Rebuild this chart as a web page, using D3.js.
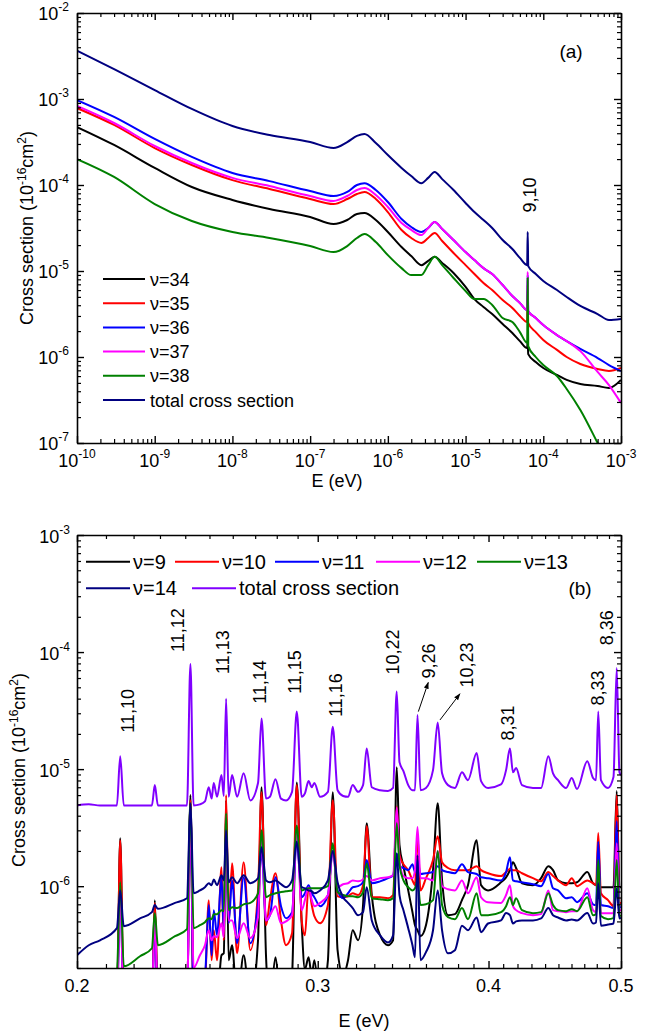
<!DOCTYPE html>
<html>
<head>
<meta charset="utf-8">
<script src="https://cdn.jsdelivr.net/npm/d3@7"></script>
<style>
  body { margin: 0; background: #fff; }
  text { font-family: "Liberation Sans", Arial, sans-serif; fill: #000; }
</style>
</head>
<body>
<svg id="chart" width="658" height="1036"></svg>
<script>
// ── Panel (a): low-energy cross sections, v = 34..38 ──
const eA = [1e-10, 3e-10, 1e-9, 3e-9, 1e-8, 3e-8, 1e-7, 2e-7, 3e-7, 4e-7, 5e-7, 7e-7, 1e-6, 1.5e-6, 2e-6, 2.7e-6,
  3.3e-6, 4e-6, 5e-6, 7e-6, 1e-5, 1.3e-5, 1.7e-5, 2.2e-5, 3e-5, 4e-5, 5e-5, 6.2e-5, 6.3e-5, 6.4e-5, 8e-5, 1e-4,
  1.5e-4, 2e-4, 3e-4, 5e-4, 7e-4, 1e-3];
const a34 = [4.72e-4, 2.92e-4, 1.58e-4, 9.48e-5, 6.70e-5, 5.26e-5, 4.25e-5, 3.52e-5, 3.92e-5, 4.60e-5, 4.72e-5, 3.92e-5,
  2.84e-5, 1.90e-5, 1.49e-5, 1.17e-5, 1.31e-5, 1.46e-5, 1.24e-5, 9.48e-6, 6.52e-6, 4.72e-6, 3.81e-6, 3.16e-6, 2.42e-6,
  1.90e-6, 1.53e-6, 1.27e-6, 1.55e-6, 1.08e-6, 8.75e-7, 7.45e-7, 6.18e-7, 5.41e-7, 4.85e-7, 4.60e-7, 4.36e-7, 5.41e-7];
const a35 = [7.85e-4, 4.99e-4, 2.69e-4, 1.71e-4, 1.14e-4, 8.98e-5, 6.87e-5, 6.01e-5, 6.87e-5, 7.85e-5, 8.30e-5, 6.87e-5,
  4.85e-5, 3.0e-5, 2.42e-5, 2.12e-5, 2.42e-5, 2.77e-5, 2.23e-5, 1.62e-5, 1.17e-5, 9.23e-6, 7.25e-6, 6.01e-6, 4.60e-6,
  3.72e-6, 3.0e-6, 2.55e-6, 6.87e-6, 2.48e-6, 1.95e-6, 1.58e-6, 1.21e-6, 1.0e-6, 8.30e-7, 7.25e-7, 6.87e-7, 7.45e-7];
const a36 = [9.7e-4, 6.18e-4, 3.43e-4, 2.12e-4, 1.38e-4, 1.11e-4, 8.51e-5, 7.45e-5, 8.30e-5, 1.0e-4, 1.05e-4, 8.75e-5,
  6.34e-5, 4.03e-5, 3.25e-5, 2.84e-5, 3.16e-5, 3.72e-5, 3.08e-5, 2.29e-5, 1.66e-5, 1.34e-5, 1.08e-5, 9.23e-6, 6.87e-6,
  5.12e-6, 4.25e-6, 3.52e-6, 8.97e-6, 3.43e-6, 2.84e-6, 2.35e-6, 1.80e-6, 1.53e-6, 1.24e-6, 9.73e-7, 8.07e-7, 6.87e-7];
const a37 = [8.30e-4, 5.26e-4, 2.84e-4, 1.80e-4, 1.21e-4, 9.73e-5, 7.45e-5, 6.52e-5, 7.45e-5, 8.75e-5, 9.23e-5, 7.66e-5,
  5.55e-5, 3.61e-5, 3.0e-5, 2.62e-5, 3.16e-5, 3.72e-5, 3.08e-5, 2.29e-5, 1.66e-5, 1.34e-5, 1.08e-5, 9.23e-6, 6.87e-6,
  5.12e-6, 4.25e-6, 3.52e-6, 9.73e-6, 3.43e-6, 2.84e-6, 2.35e-6, 1.80e-6, 1.53e-6, 1.17e-6, 6.70e-7, 4.72e-7, 2.92e-7];
const a38 = [2.0e-4, 1.24e-4, 6.01e-5, 3.81e-5, 2.84e-5, 2.42e-5, 1.95e-5, 1.66e-5, 1.95e-5, 2.42e-5, 2.69e-5, 2.17e-5,
  1.53e-5, 1.08e-5, 8.97e-6, 8.97e-6, 1.17e-5, 1.46e-5, 1.17e-5, 8.30e-6, 5.85e-6, 4.72e-6, 4.72e-6, 4.03e-6, 2.84e-6,
  2.55e-6, 1.95e-6, 1.46e-6, 8.30e-6, 1.34e-6, 1.0e-6, 8.07e-7, 6.01e-7, 4.25e-7, 2.42e-7, 1.0e-7, 5.5e-8, 3.0e-8];
const aTot = [3.65e-3, 2.23e-3, 1.27e-3, 7.66e-4, 4.85e-4, 3.81e-4, 3.16e-4, 2.69e-4, 3.16e-4, 3.72e-4, 3.92e-4, 3.08e-4,
  2.23e-4, 1.58e-4, 1.27e-4, 1.05e-4, 1.21e-4, 1.42e-4, 1.17e-4, 8.75e-5, 6.18e-5, 4.85e-5, 3.92e-5, 3.16e-5, 2.29e-5,
  1.80e-5, 1.42e-5, 1.17e-5, 2.84e-5, 1.14e-5, 9.23e-6, 7.66e-6, 6.01e-6, 4.99e-6, 3.92e-6, 3.16e-6, 2.69e-6, 2.77e-6];

// ── Panel (b): resonance region, v = 9..14 ──
const eB = [0.2, 0.204, 0.2079, 0.2139, 0.2151, 0.2164, 0.2224, 0.2269, 0.228, 0.2292,
  0.2359, 0.2407, 0.2421, 0.2434, 0.246, 0.2481, 0.2497, 0.2509, 0.2518, 0.2532,
  0.2551, 0.2561, 0.2571, 0.2582, 0.2597, 0.2619, 0.2648, 0.2678, 0.2713, 0.2729,
  0.275, 0.2768, 0.2794, 0.282, 0.2844, 0.2873, 0.2896, 0.292, 0.2936, 0.2954,
  0.297, 0.2983, 0.3012, 0.3052, 0.3077, 0.3102, 0.3131, 0.3157, 0.3182, 0.3211,
  0.3238, 0.3258, 0.3286, 0.3332, 0.3377, 0.3406, 0.3427, 0.3443, 0.3466, 0.3494,
  0.3519, 0.3534, 0.3549, 0.3567, 0.36, 0.3643, 0.3672, 0.3699, 0.3736, 0.378,
  0.3825, 0.3864, 0.3921, 0.395, 0.3997, 0.4085, 0.412, 0.4147, 0.4168, 0.419,
  0.4232, 0.4311, 0.437, 0.4424, 0.4459, 0.4497, 0.4558, 0.4602, 0.4643, 0.4724,
  0.477, 0.4794, 0.4812, 0.4834, 0.4892, 0.4937, 0.4964, 0.4987, 0.5];
const b9 = [1e-7, 1e-7, 1e-7, 1e-7, 2.57e-6, 1e-7, 1e-7, 1e-7, 7.6e-7, 1e-7,
  1e-7, 1e-7, 6.0e-6, 1e-7, 1e-7, 1e-7, 1e-7, 1e-7, 1e-7, 1e-7,
  2.57e-7, 2.67e-7, 5.43e-6, 2.33e-7, 3.13e-7, 1e-7, 2.57e-7, 1e-7, 3.45e-7, 7.0e-6,
  2.47e-7, 1e-7, 2.47e-7, 1e-7, 1e-7, 1.73e-7, 7.7e-6, 4.83e-7, 1.95e-7, 2.47e-7,
  1.73e-7, 2.33e-7, 1e-7, 2.33e-7, 6.36e-6, 2.84e-7, 1.73e-7, 2.33e-7, 4.21e-7, 3.45e-7,
  6.9e-7, 3.45e-6, 8.4e-7, 3.81e-7, 3.13e-7, 3.45e-7, 1.04e-5, 2.24e-6, 1.48e-6, 9.2e-7,
  6.0e-7, 4.64e-7, 4.21e-7, 3.74e-7, 4.64e-7, 1.37e-6, 5.1e-6, 1.12e-6, 5.65e-7, 5.77e-7,
  7.6e-7, 1.02e-6, 2.47e-6, 1.02e-6, 9.2e-7, 1.08e-6, 1.19e-6, 1.37e-6, 1.6e-6, 1.43e-6,
  1.06e-6, 1.02e-6, 1.17e-6, 1.48e-6, 1.37e-6, 1.12e-6, 1.06e-6, 1.06e-6, 1.08e-6, 1.32e-6,
  1.06e-6, 1.02e-6, 1.0e-6, 9.8e-7, 9.8e-7, 9.8e-7, 6.5e-6, 9.8e-7, 9.8e-7];
const b10 = [1e-7, 1e-7, 1e-7, 1e-7, 2.47e-6, 1e-7, 1e-7, 1e-7, 7.2e-7, 1e-7,
  1e-7, 1e-7, 5.43e-6, 1e-7, 1e-7, 1.43e-7, 7.6e-7, 2.33e-7, 4.21e-7, 2.33e-7,
  1.45e-6, 3.45e-7, 6.0e-6, 4.83e-7, 1.57e-6, 2.67e-7, 1.6e-6, 2.84e-7, 9.2e-7, 6.36e-6,
  4.64e-7, 7.6e-7, 1.29e-6, 5.1e-7, 3.13e-7, 3.96e-7, 7.3e-6, 5.1e-7, 3.81e-7, 1.0e-6,
  6.9e-7, 5.55e-7, 4.83e-7, 6.9e-7, 5.43e-6, 8.2e-7, 8.05e-7, 8.2e-7, 8.7e-7, 8.4e-7,
  1.02e-6, 3.26e-6, 8.05e-7, 8.05e-7, 7.9e-7, 8.4e-7, 4.8e-6, 1.84e-6, 1.54e-6, 1.37e-6,
  1.12e-6, 1.02e-6, 2.73e-6, 9.2e-7, 1.17e-6, 1.67e-6, 2.67e-6, 1.6e-6, 1.43e-6, 1.37e-6,
  1.37e-6, 1.37e-6, 1.48e-6, 1.37e-6, 1.29e-6, 1.22e-6, 1.32e-6, 1.40e-6, 1.37e-6, 1.37e-6,
  1.29e-6, 1.17e-6, 1.10e-6, 1.32e-6, 1.22e-6, 1.12e-6, 1.02e-6, 1.17e-6, 1.0e-6, 1.12e-6,
  1.06e-6, 1.02e-6, 2.84e-6, 8.7e-7, 7.6e-7, 6.75e-7, 6.0e-6, 7.2e-7, 7.2e-7];
const b11 = [1e-7, 1e-7, 1e-7, 1e-7, 8.4e-7, 1e-7, 1e-7, 1e-7, 4.64e-7, 1e-7,
  1e-7, 1e-7, 4.9e-6, 1e-7, 1.43e-7, 1.73e-7, 6.9e-7, 2.57e-7, 6.24e-7, 3.81e-7,
  1.19e-6, 4.21e-7, 3.0e-6, 4.83e-7, 1.12e-6, 3.26e-7, 1.19e-6, 3.26e-7, 7.2e-7, 2.0e-6,
  5.1e-7, 5.65e-7, 1.19e-6, 6.75e-7, 5.33e-7, 6.0e-7, 2.47e-6, 8.05e-7, 8.7e-7, 1.02e-6,
  8.7e-7, 8.05e-7, 6.75e-7, 8.4e-7, 2.0e-6, 9.2e-7, 7.9e-7, 8.7e-7, 9.8e-7, 1.0e-6,
  1.08e-6, 1.67e-6, 1.06e-6, 1.10e-6, 1.17e-6, 1.24e-6, 1.9e-6, 1.48e-6, 1.43e-6, 1.37e-6,
  1.54e-6, 1.32e-6, 1.67e-6, 1.27e-6, 1.29e-6, 1.32e-6, 1.48e-6, 1.37e-6, 1.32e-6, 1.29e-6,
  1.54e-6, 1.32e-6, 1.27e-6, 1.19e-6, 1.17e-6, 1.12e-6, 1.32e-6, 1.77e-6, 1.12e-6, 1.10e-6,
  1.08e-6, 1.04e-6, 1.0e-6, 1.27e-6, 9.6e-7, 9.2e-7, 7.9e-7, 8.05e-7, 7.3e-7, 8.7e-7,
  7.0e-7, 6.9e-7, 2.4e-6, 6.9e-7, 6.75e-7, 6.5e-7, 3.6e-6, 6.6e-7, 6.6e-7];
const b12 = [1e-7, 1e-7, 1e-7, 1e-7, 8.4e-7, 1e-7, 1e-7, 1e-7, 5.65e-7, 1e-7,
  1e-7, 1e-7, 4.5e-6, 2.0e-7, 2.57e-7, 3.13e-7, 4.2e-7, 3.45e-7, 3.74e-7, 3.66e-7,
  4.83e-7, 3.66e-7, 3.0e-6, 5.1e-7, 5.1e-7, 3.6e-7, 4.83e-7, 3.6e-7, 5.43e-7, 2.47e-6,
  5.1e-7, 5.65e-7, 6.75e-7, 4.83e-7, 5.0e-7, 5.65e-7, 3.0e-6, 6.24e-7, 7.6e-7, 9.8e-7,
  7.6e-7, 6.75e-7, 7.2e-7, 8.4e-7, 2.0e-6, 9.8e-7, 1.04e-6, 1.06e-6, 1.12e-6, 1.10e-6,
  1.14e-6, 1.22e-6, 1.12e-6, 1.17e-6, 1.19e-6, 1.24e-6, 4.7e-6, 1.67e-6, 1.22e-6, 1.17e-6,
  1.17e-6, 1.37e-6, 3.2e-6, 1.17e-6, 1.17e-6, 1.12e-6, 2.0e-6, 1.0e-6, 9.4e-7, 9.2e-7,
  1.12e-6, 8.7e-7, 1.19e-6, 8.05e-7, 7.3e-7, 7.2e-7, 8.4e-7, 1.02e-6, 6.75e-7, 6.24e-7,
  5.88e-7, 5.65e-7, 5.77e-7, 9.2e-7, 6.24e-7, 6.12e-7, 6.0e-7, 6.12e-7, 6.12e-7, 9.6e-7,
  6.24e-7, 6.0e-7, 1.45e-6, 5.88e-7, 5.88e-7, 5.88e-7, 2.33e-6, 6.24e-7, 6.24e-7];
const b13 = [1e-7, 1e-7, 1.29e-7, 1.84e-7, 1.08e-6, 2.07e-7, 2.52e-7, 2.95e-7, 5.88e-7, 3.13e-7,
  3.74e-7, 4.29e-7, 5.1e-6, 4.38e-7, 4.64e-7, 4.92e-7, 5.33e-7, 5.22e-7, 5.77e-7, 5.77e-7,
  6.24e-7, 6.12e-7, 4.2e-6, 6.24e-7, 6.6e-7, 6.5e-7, 7.0e-7, 7.2e-7, 8.7e-7, 3.0e-6,
  8.05e-7, 8.4e-7, 8.7e-7, 8.9e-7, 9.05e-7, 9.2e-7, 3.3e-6, 9.2e-7, 9.4e-7, 9.6e-7,
  9.6e-7, 9.6e-7, 9.6e-7, 1.0e-6, 2.33e-6, 8.9e-7, 8.4e-7, 8.2e-7, 8.2e-7, 8.05e-7,
  8.9e-7, 1.57e-6, 7.9e-7, 7.74e-7, 7.6e-7, 7.9e-7, 3.45e-6, 1.51e-6, 1.12e-6, 9.8e-7,
  9.2e-7, 9.6e-7, 1.12e-6, 6.9e-7, 7.0e-7, 7.6e-7, 2.0e-6, 6.9e-7, 5.43e-7, 5.22e-7,
  6.5e-7, 5.22e-7, 8.7e-7, 5.65e-7, 5.65e-7, 6.0e-7, 6.75e-7, 8.05e-7, 6.9e-7, 7.9e-7,
  6.24e-7, 5.88e-7, 6.0e-7, 8.7e-7, 6.9e-7, 6.24e-7, 6.12e-7, 6.36e-7, 6.12e-7, 8.05e-7,
  5.65e-7, 5.77e-7, 1.67e-6, 5.55e-7, 5.22e-7, 5.33e-7, 1.67e-6, 5.65e-7, 5.55e-7];
const b14 = [2.57e-7, 3.13e-7, 3.45e-7, 4.38e-7, 9.2e-7, 4.55e-7, 5.3e-7, 6.0e-7, 6.9e-7, 6.4e-7,
  7.2e-7, 7.9e-7, 5.1e-6, 8.7e-7, 9.2e-7, 9.8e-7, 1.06e-6, 1.02e-6, 1.14e-6, 1.02e-6,
  1.24e-6, 1.12e-6, 3.0e-6, 1.08e-6, 1.19e-6, 1.06e-6, 1.24e-6, 1.06e-6, 1.17e-6, 2.15e-6,
  1.12e-6, 1.08e-6, 1.12e-6, 1.04e-6, 9.8e-7, 1.12e-6, 2.4e-6, 9.8e-7, 9.6e-7, 9.2e-7,
  9.05e-7, 8.7e-7, 9.2e-7, 1.12e-6, 2.0e-6, 1.08e-6, 8.05e-7, 7.2e-7, 6.5e-7, 5.65e-7,
  6.0e-7, 9.8e-7, 5.1e-7, 3.8e-7, 3.3e-7, 3.8e-7, 1.9e-6, 8.4e-7, 6.24e-7, 4.38e-7,
  3.13e-7, 2.47e-7, 1.84e-6, 2.33e-7, 2.73e-7, 4.2e-7, 9.2e-7, 4.2e-7, 2.67e-7, 2.84e-7,
  4.6e-7, 4.2e-7, 5.4e-7, 4.05e-7, 4.8e-7, 5.1e-7, 5.9e-7, 5.65e-7, 4.8e-7, 5.0e-7,
  5.1e-7, 5.1e-7, 5.3e-7, 6.5e-7, 5.65e-7, 5.4e-7, 5.1e-7, 5.2e-7, 5.1e-7, 5.9e-7,
  4.8e-7, 4.9e-7, 1.06e-6, 4.6e-7, 4.7e-7, 4.8e-7, 9.6e-7, 5.3e-7, 5.4e-7];
const bTot = [4.9e-6, 5.0e-6, 4.9e-6, 4.9e-6, 1.29e-5, 4.9e-6, 4.9e-6, 4.9e-6, 7.3e-6, 4.9e-6,
  4.9e-6, 4.9e-6, 7.9e-5, 4.9e-6, 5.0e-6, 5.3e-6, 7.0e-6, 5.6e-6, 7.6e-6, 5.8e-6,
  8.9e-6, 5.9e-6, 4.0e-5, 5.8e-6, 8.9e-6, 5.8e-6, 9.2e-6, 5.4e-6, 7.6e-6, 2.7e-5,
  5.6e-6, 5.8e-6, 8.2e-6, 5.6e-6, 5.4e-6, 6.4e-6, 3.1e-5, 5.8e-6, 6.2e-6, 7.9e-6,
  7.0e-6, 7.6e-6, 5.8e-6, 6.4e-6, 2.3e-5, 6.6e-6, 5.9e-6, 5.8e-6, 7.3e-6, 6.4e-6,
  7.3e-6, 1.5e-5, 7.0e-6, 6.6e-6, 6.5e-6, 6.9e-6, 4.6e-5, 1.15e-5, 9.6e-6, 7.3e-6,
  6.6e-6, 6.6e-6, 2.9e-5, 6.6e-6, 6.9e-6, 9.8e-6, 2.5e-5, 9.2e-6, 7.3e-6, 6.9e-6,
  9.4e-6, 8.05e-6, 1.37e-5, 7.9e-6, 6.9e-6, 7.4e-6, 9.8e-6, 1.5e-5, 9.4e-6, 1.02e-5,
  7.3e-6, 6.9e-6, 6.9e-6, 1.29e-5, 9.2e-6, 8.05e-6, 6.9e-6, 8.4e-6, 6.75e-6, 1.17e-5,
  8.4e-6, 8.05e-6, 3.1e-5, 8.05e-6, 6.9e-6, 8.55e-6, 7.3e-5, 9.4e-6, 8.9e-6];

// resonance labels (v, v') written above the peaks of panel (b): label centre (E, sigma)
const peakNames = ["11,10", "11,12", "11,13", "11,14", "11,15", "11,16", "10,22", "9,26", "10,23", "8,31", "8,33", "8,36"];
const peakLabelE = [0.2178, 0.2371, 0.2555, 0.2722, 0.2887, 0.3094, 0.3406, 0.3619, 0.3855, 0.4133, 0.481, 0.4879];
const peakLabelS = [3.14e-5, 1.54e-4, 1.0e-4, 5.55e-5, 6.76e-5, 4.3e-5, 1.0e-4, 8.39e-5, 7.75e-5, 2.48e-5, 4.93e-5, 1.61e-4];
// arrows from the 9,26 and 10,23 peaks to their labels: [E0, s0, E1, s1]
const arrowsB = [[0.3554, 3.1e-5, 0.3614, 5.5e-5], [0.3686, 2.63e-5, 0.3812, 4.4e-5]];

const seriesA = [
  { name: "ν=34", color: "#000000", s: a34 },
  { name: "ν=35", color: "#ff0000", s: a35 },
  { name: "ν=36", color: "#0000ff", s: a36 },
  { name: "ν=37", color: "#ff00ff", s: a37 },
  { name: "ν=38", color: "#008000", s: a38 },
  { name: "total cross section", color: "#000080", s: aTot }
];
const seriesB = [
  { name: "ν=9", color: "#000000", s: b9 },
  { name: "ν=10", color: "#ff0000", s: b10 },
  { name: "ν=11", color: "#0000ff", s: b11 },
  { name: "ν=12", color: "#ff00ff", s: b12 },
  { name: "ν=13", color: "#008000", s: b13 },
  { name: "ν=14", color: "#000080", s: b14 },
  { name: "total cross section", color: "#8000ff", s: bTot }
];

const svg = d3.select("#chart");
const defs = svg.append("defs");

// ── scales ──
const xA = d3.scaleLog().domain([1e-10, 1e-3]).range([77, 621]);
const yA = d3.scaleLog().domain([1e-7, 1e-2]).range([443, 13]);
const xB = d3.scaleLog().domain([0.2, 0.5]).range([77, 621]);
const yB = d3.scaleLog().domain([2e-7, 1e-3]).range([968, 535]);

const decades = (p0, p1) => d3.range(p0, p1 + 1).map(p => +("1e" + p));
const minors = (p0, p1) => d3.range(p0, p1 + 1).flatMap(p => d3.range(2, 10).map(m => +(m + "e" + p)));

// ── frame with inward ticks on all four sides ──
function frame(x, y, xMaj, xMin, yMaj, yMin) {
  const [x0, x1] = x.range(), [y0, y1] = y.range();
  const sides = [
    [d3.axisBottom(x), `translate(0,${y0})`, xMaj, xMin],
    [d3.axisTop(x), `translate(0,${y1})`, xMaj, xMin],
    [d3.axisLeft(y), `translate(${x0},0)`, yMaj, yMin],
    [d3.axisRight(y), `translate(${x1},0)`, yMaj, yMin]
  ];
  sides.forEach(([ax, tr, maj, min]) => {
    svg.append("g").attr("transform", tr)
      .call(ax.tickValues(min).tickSize(-4).tickSizeOuter(0).tickFormat(""))
      .call(g => g.select(".domain").remove())
      .call(g => g.selectAll("line").attr("stroke-width", 1.2));
    svg.append("g").attr("transform", tr)
      .call(ax.tickValues(maj).tickSize(-7).tickSizeOuter(0).tickFormat(""))
      .call(g => g.select(".domain").attr("stroke-width", 1.6))
      .call(g => g.selectAll("line").attr("stroke-width", 1.4));
  });
}

function powLabel(x, y, p, anchor) {
  const t = svg.append("text").attr("x", x).attr("y", y)
    .attr("text-anchor", anchor).attr("font-size", 18);
  t.append("tspan").text("10");
  t.append("tspan").attr("dy", -9).attr("font-size", 12).text(p);
}

function yTitle(cx, cy) {
  const t = svg.append("text").attr("transform", `translate(${cx},${cy}) rotate(-90)`)
    .attr("text-anchor", "middle").attr("font-size", 18);
  t.append("tspan").text("Cross section (10");
  t.append("tspan").attr("dy", -7).attr("font-size", 12).text("-16");
  t.append("tspan").attr("dy", 7).text("cm");
  t.append("tspan").attr("dy", -7).attr("font-size", 12).text("2");
  t.append("tspan").attr("dy", 7).text(")");
}

function curves(x, y, e, series, clipId) {
  const [x0, x1] = x.range(), [y0, y1] = y.range();
  defs.append("clipPath").attr("id", clipId).append("rect")
    .attr("x", x0).attr("y", y1).attr("width", x1 - x0).attr("height", y0 - y1);
  const line = d3.line().x(d => x(d[0])).y(d => y(d[1])).curve(d3.curveMonotoneX);
  svg.append("g").attr("clip-path", `url(#${clipId})`)
    .selectAll("path").data(series).join("path")
    .attr("d", d => line(d3.zip(e, d.s)))
    .attr("fill", "none").attr("stroke", d => d.color)
    .attr("stroke-width", 2).attr("stroke-linejoin", "round");
}

// ── Panel (a) ──
curves(xA, yA, eA, seriesA, "clipA");
frame(xA, yA, decades(-10, -3), minors(-10, -4), decades(-7, -2), minors(-7, -3));
d3.range(-10, -2).forEach(p => powLabel(xA(+("1e" + p)), 467, p, "middle"));
d3.range(-7, -1).forEach(p => powLabel(69, yA(+("1e" + p)) + 7, p, "end"));
yTitle(33, 228);
svg.append("text").attr("x", 337).attr("y", 487).attr("text-anchor", "middle")
  .attr("font-size", 18).text("E (eV)");
svg.append("text").attr("x", 571).attr("y", 58).attr("text-anchor", "middle")
  .attr("font-size", 19).text("(a)");
svg.append("text").attr("transform", `translate(${xA(6.3e-5) + 2},195) rotate(-90)`)
  .attr("text-anchor", "middle").attr("dy", "0.35em").attr("font-size", 18).text("9,10");

const legA = svg.append("g");
seriesA.forEach((d, i) => {
  const cy = 279 + i * 24.2;
  legA.append("line").attr("x1", 103).attr("x2", 145).attr("y1", cy).attr("y2", cy)
    .attr("stroke", d.color).attr("stroke-width", 2);
  legA.append("text").attr("x", 150).attr("y", cy + 6.5).attr("font-size", 18).text(d.name);
});

// ── Panel (b) ──
curves(xB, yB, eB, seriesB, "clipB");
const xMinB = d3.range(21, 50).filter(v => v % 10).map(v => v / 100);
frame(xB, yB, [0.2, 0.3, 0.4, 0.5], xMinB, decades(-6, -3),
  [...d3.range(2, 10).map(m => +(m + "e-7")), ...minors(-6, -4)]);
[0.2, 0.3, 0.4, 0.5].forEach(v => svg.append("text").attr("x", xB(v)).attr("y", 992)
  .attr("text-anchor", "middle").attr("font-size", 18).text(v.toFixed(1)));
d3.range(-6, -2).forEach(p => powLabel(70, yB(+("1e" + p)) + 8, p, "end"));
yTitle(25, 770);
svg.append("text").attr("x", 364).attr("y", 1027).attr("text-anchor", "middle")
  .attr("font-size", 18).text("E (eV)");
svg.append("text").attr("x", 580).attr("y", 595).attr("text-anchor", "middle")
  .attr("font-size", 19).text("(b)");

peakNames.forEach((t, i) => {
  svg.append("text")
    .attr("transform", `translate(${xB(peakLabelE[i])},${yB(peakLabelS[i])}) rotate(-90)`)
    .attr("text-anchor", "middle").attr("dy", "0.35em").attr("font-size", 18).text(t);
});

defs.append("marker").attr("id", "arrow").attr("viewBox", "0 0 10 10")
  .attr("refX", 9).attr("refY", 5).attr("markerWidth", 7).attr("markerHeight", 7)
  .attr("orient", "auto").append("path").attr("d", "M0,1.5L10,5L0,8.5Z").attr("fill", "#000");
arrowsB.forEach(([ea, sa, eb, sb]) => {
  svg.append("line").attr("x1", xB(ea)).attr("y1", yB(sa)).attr("x2", xB(eb)).attr("y2", yB(sb))
    .attr("stroke", "#000").attr("stroke-width", 1).attr("marker-end", "url(#arrow)");
});

const legB = [
  { i: 0, x: 86, row: 0 }, { i: 1, x: 175, row: 0 }, { i: 2, x: 275, row: 0 },
  { i: 3, x: 376, row: 0 }, { i: 4, x: 477, row: 0 }, { i: 5, x: 86, row: 1 }, { i: 6, x: 192, row: 1 }
];
legB.forEach(l => {
  const d = seriesB[l.i], cy = 561.7 + l.row * 26.6;
  svg.append("line").attr("x1", l.x).attr("x2", l.x + 44).attr("y1", cy).attr("y2", cy)
    .attr("stroke", d.color).attr("stroke-width", 2);
  svg.append("text").attr("x", l.x + 47).attr("y", cy + 7).attr("font-size", 20).text(d.name);
});
</script>
</body>
</html>
